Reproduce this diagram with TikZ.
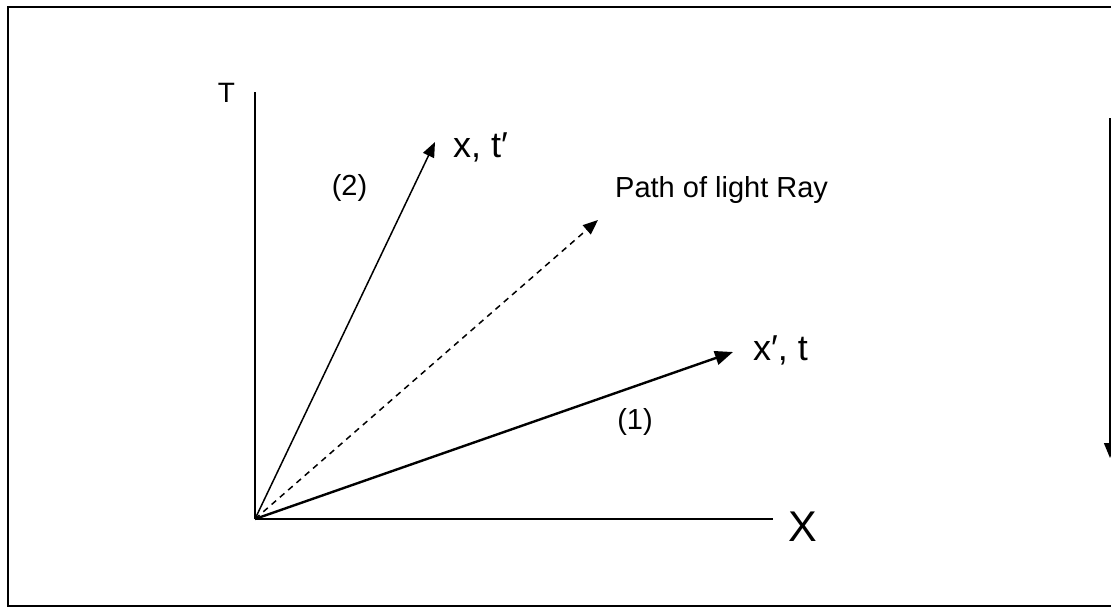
\documentclass[tikz,border=0pt]{standalone}
\usepackage{fontspec}
\setmainfont{Liberation Sans}
\usetikzlibrary{arrows.meta}
\newcommand\fsz[1]{\fontsize{#1pt}{#1pt}\selectfont}
\begin{document}
\begin{tikzpicture}[x=1pt,y=-1pt,
    frame/.style={line width=2pt},
    ray/.style={-{Triangle[length=15pt,width=12pt]}},
    bigray/.style={-{Triangle[length=18pt,width=14pt]}},
    lbl/.style={inner sep=0pt,anchor=base west}]
    \useasboundingbox (0,0) rectangle (1111,613);
    \draw[frame] (8,7) rectangle (1120,606);

    % axes
    \coordinate (o) at (255,519);
    \coordinate (ttop) at (255,92);
    \coordinate (xend) at (773,519);
    \draw[line width=1.4pt] (o) -- (ttop);
    \draw[line width=2pt] (o) -- (xend);
    \node[inner sep=0pt,font=\fsz{28}] (tlab) at (226.5,93) {T};
    \node[inner sep=0pt,font=\fsz{43}] (xlab) at (802.5,526.5) {X};

    % the two frames and the light ray
    \coordinate (tip2) at (435,142);
    \coordinate (tipl) at (598,220);
    \coordinate (tip1) at (733,352);
    \draw[ray,line width=1.5pt] (o) -- (tip2);
    \draw[ray,line width=1.5pt,dash pattern=on 6pt off 5pt] (o) -- (tipl);
    \draw[bigray,line width=2.4pt] (o) -- (tip1);
    \node[lbl,font=\fsz{36}] (lab2) at (453,157) {x, t′};
    \node[lbl,font=\fsz{29}] (labl) at (615,197) {Path of light Ray};
    \node[lbl,font=\fsz{36}] (lab1) at (753,360) {x′, t};
    \node[font=\fsz{29}] (num2) at (349.5,187.5) {(2)};
    \node[font=\fsz{29}] (num1) at (635,422) {(1)};

    \coordinate (rtop) at (1110,118);
    \coordinate (rbot) at (1110,458);
    \draw[ray,line width=1.5pt] (rtop) -- (rbot);
\end{tikzpicture}
\end{document}
